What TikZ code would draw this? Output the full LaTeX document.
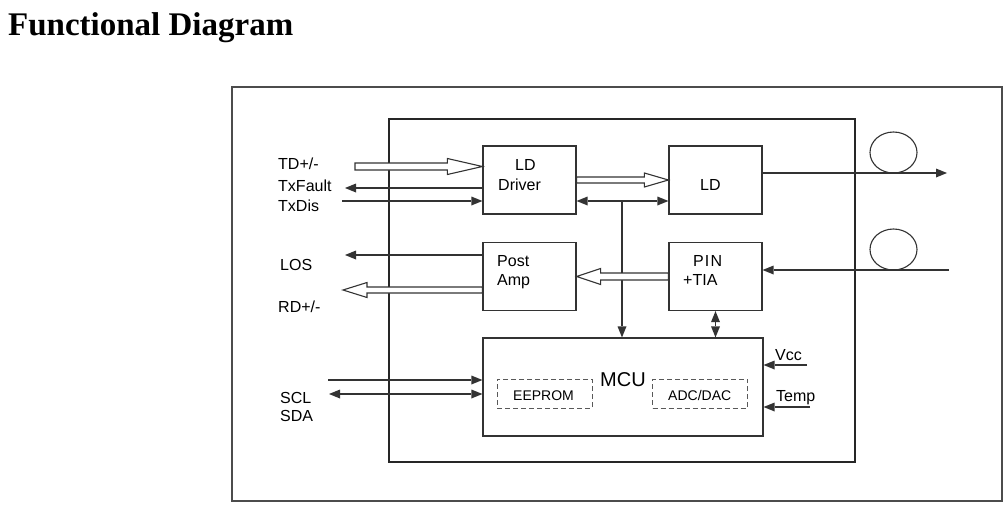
\documentclass[tikz,border=0pt]{standalone}
\usepackage{fontspec}
\setmainfont{Liberation Sans}
\newfontfamily\titlefont{Liberation Serif}
\usetikzlibrary{arrows.meta,shapes.geometric,calc}

\tikzset{
  wire/.style={draw=black!80, line width=1.1pt},
  head/.tip={Triangle[length=11pt,width=9pt,line width=0pt]},
  oneway/.style={-head},
  twoway/.style={head-head},
  fat/.style={draw=black!80, line width=1.1pt, fill=white, line join=miter},
  box/.style={draw=black!80, line width=1.2pt, minimum width=93pt, minimum height=68pt, inner sep=0pt},
  memo/.style={draw=black!65, dash pattern=on 5pt off 3pt, line width=1pt, minimum width=95pt, minimum height=29pt, inner sep=0pt},
  fiber/.style={draw=black!80, line width=1.1pt, ellipse, minimum width=47pt, minimum height=41pt, inner sep=0pt},
  txt/.style={font=\fontsize{16}{18}\selectfont, text=black, inner sep=0pt, anchor=base west},
}
\newcommand\hollow[5]{%
  \draw[fat] let \p1=(#1), \p2=(#2), \n1={ifthenelse(\x2>\x1,1,-1)} in
    (\x1,\y1+#5) -- (\x2-\n1*#3,\y1+#5) -- (\x2-\n1*#3,\y1+#4) -- (\x2,\y1)
    -- (\x2-\n1*#3,\y1-#4) -- (\x2-\n1*#3,\y1-#5) -- (\x1,\y1-#5) -- cycle;}

\begin{document}
\begin{tikzpicture}[x=1pt,y=-1pt]
\useasboundingbox (0,0) rectangle (1005,506);
\node[anchor=base west, inner sep=0pt, font=\titlefont\bfseries\fontsize{33}{36}\selectfont] (title) at (8,35) {Functional Diagram};

\draw[black!70, line width=1.5pt] (232,87) rectangle (1002,501);
\draw[black!85, line width=2.8pt] (389,119) rectangle (855,462);

% blocks
\node[box] (drv) at (529.5,180) {};
\node[box] (ld) at (715.5,180) {};
\node[box] (amp) at (529.5,276.5) {};
\node[box] (pin) at (715.5,276.5) {};
\node[box, minimum width=280pt, minimum height=98pt] (mcu) at (623,387) {};
\node[memo] (eep) at (544.5,393.5) {};
\node[memo] (adc) at (700,393.5) {};
\node[fiber] (loopTx) at (893.5,152.5) {};
\node[fiber] (loopRx) at (893.5,249.5) {};

\node[txt] (drvA) at (515,170) {LD};
\node[txt] (drvB) at (498,190) {Driver};
\node[txt] (ldT) at (700,190) {LD};
\node[txt] (ampA) at (497,266.5) {Post};
\node[txt] (ampB) at (497,285) {Amp};
\node[txt] (pinA) at (693,266.5) {\addfontfeature{LetterSpace=7}PIN};
\node[txt] (pinB) at (683,285) {+TIA};
\node[txt, font=\fontsize{20}{22}\selectfont] (mcuT) at (600,386.5) {MCU};
\node[txt, font=\fontsize{14}{16}\selectfont] (eepT) at (513,400) {EEPROM};
\node[txt, font=\fontsize{14}{16}\selectfont] (adcT) at (668,400) {ADC/DAC};

% pins
\node[txt] (tdT) at (278,169.5) {TD+/-};
\node[txt] (tfT) at (278,191) {TxFault};
\node[txt] (tdisT) at (278,211.5) {TxDis};
\node[txt] (losT) at (280,270.5) {LOS};
\node[txt] (rdT) at (278,312) {RD+/-};
\node[txt] (sclT) at (280,403) {SCL};
\node[txt] (sdaT) at (280,421.5) {SDA};
\node[txt] (vccT) at (775,360.5) {Vcc};
\node[txt] (tempT) at (776,401.5) {Temp};

\coordinate (tdL) at (355,166.5);
\coordinate (tfL) at (345,188);
\coordinate (tdisL) at (342,201);
\coordinate (losL) at (345,255);
\coordinate (rdL) at (343,290);
\coordinate (sclL) at (328,380);
\coordinate (sdaL) at (329,394);
\coordinate (bus) at (622,201);
\coordinate (fibOut) at (947,173);
\coordinate (fibIn) at (949,270);
\coordinate (vccR) at (807,365);
\coordinate (tempR) at (810,407);

\hollow{tdL}{drv.west|-tdL}{35pt}{8pt}{3.5pt}
\draw[wire,oneway] (drv.west|-tfL) -- (tfL);
\draw[wire,oneway] (tdisL) -- (drv.west|-tdisL);
\draw[wire,oneway] (amp.west|-losL) -- (losL);
\hollow{amp.west|-rdL}{rdL}{24pt}{7.5pt}{3pt}
\draw[wire,oneway] (sclL) -- (mcu.west|-sclL);
\draw[wire,twoway] (sdaL) -- (mcu.west|-sdaL);

\hollow{drv.east}{ld.west}{24pt}{7pt}{3pt}
\draw[wire,twoway] (drv.east|-bus) -- (ld.west|-bus);
\draw[wire,oneway] (bus) -- (bus|-mcu.north);
\hollow{pin.west}{amp.east}{24pt}{8pt}{3.5pt}
\draw[wire,twoway] (pin.south) -- (pin.south|-mcu.north);

\draw[wire,oneway] (ld.east|-fibOut) -- (fibOut);
\draw[wire,oneway] (fibIn) -- (pin.east|-fibIn);
\draw[wire,oneway] (vccR) -- (mcu.east|-vccR);
\draw[wire,oneway] (tempR) -- (mcu.east|-tempR);
\end{tikzpicture}
\end{document}
